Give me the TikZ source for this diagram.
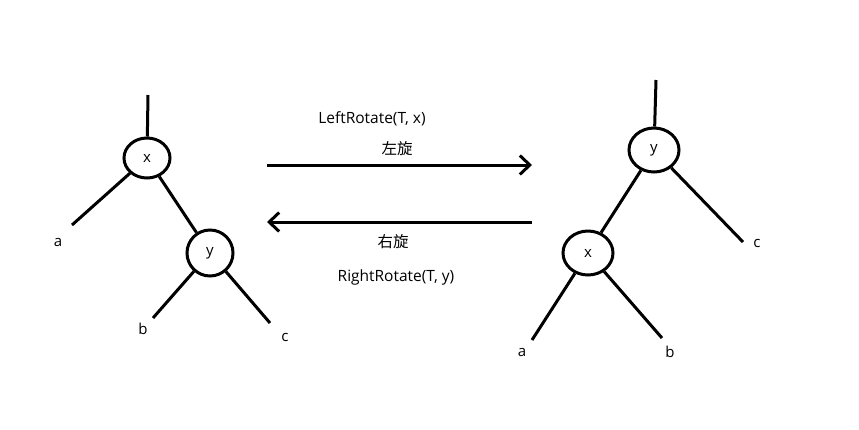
\documentclass[tikz,border=0pt]{standalone}
\usepackage{fontspec}
\setmainfont{Open Sans}
\newfontfamily\cjk{Noto Sans CJK SC}
\usetikzlibrary{arrows.meta,shapes.geometric}
\begin{document}
\begin{tikzpicture}[x=1pt,y=-1pt,
  edge/.style={line width=3pt},
  tnode/.style={draw,line width=3pt,ellipse,minimum width=46pt,minimum height=40pt,inner sep=0pt,font=\fontsize{15}{18}\selectfont},
  leaf/.style={font=\fontsize{15}{18}\selectfont,inner sep=0pt},
  lbl/.style={font=\fontsize{15.5}{18}\selectfont,inner sep=0pt},
  harrow/.style={line width=3pt,-{Straight Barb[length=10pt,width=19pt,line width=3pt]}}]
\useasboundingbox (0,0) rectangle (859,429);
% left tree
\node[tnode] (lx) at (147,158) {x};
\node[tnode,minimum width=46pt,minimum height=46pt] (ly) at (210,253) {y};
\coordinate (ltop) at (148,95);
\coordinate (la) at (72,225);
\coordinate (lb) at (153,318);
\coordinate (lc) at (270,323);
\node[leaf] (lal) at (58,242) {a};
\node[leaf] (lbl) at (143,329) {b};
\node[leaf] (lcl) at (285,337) {c};
\draw[edge] (lx) -- (ltop);
\draw[edge] (lx) -- (la);
\draw[edge] (lx) -- (ly);
\draw[edge] (ly) -- (lb);
\draw[edge] (ly) -- (lc);
% arrows
\coordinate (a1s) at (267,165);
\coordinate (a1e) at (532,165);
\coordinate (a2s) at (532,222);
\coordinate (a2e) at (267,222);
\draw[harrow] (a1s) -- (a1e);
\draw[harrow] (a2s) -- (a2e);
\node[lbl] (t1) at (372,119) {LeftRotate(T, x)};
\node[lbl] (t2) at (397,149) {\cjk 左旋};
\node[lbl] (t3) at (393,242) {\cjk 右旋};
\node[lbl] (t4) at (396,277) {RightRotate(T, y)};
% right tree
\node[tnode,minimum width=50pt,minimum height=44pt] (ry) at (654,150) {y};
\node[tnode,minimum width=50pt,minimum height=44pt] (rx) at (588,253) {x};
\coordinate (rtop) at (656,80);
\coordinate (rc) at (743,242);
\coordinate (ra) at (532,340);
\coordinate (rb) at (662,338);
\node[leaf] (rcl) at (757,243) {c};
\node[leaf] (ral) at (522,352) {a};
\node[leaf] (rbl) at (670,352) {b};
\draw[edge] (ry) -- (rtop);
\draw[edge] (ry) -- (rx);
\draw[edge] (ry) -- (rc);
\draw[edge] (rx) -- (ra);
\draw[edge] (rx) -- (rb);
\end{tikzpicture}
\end{document}
